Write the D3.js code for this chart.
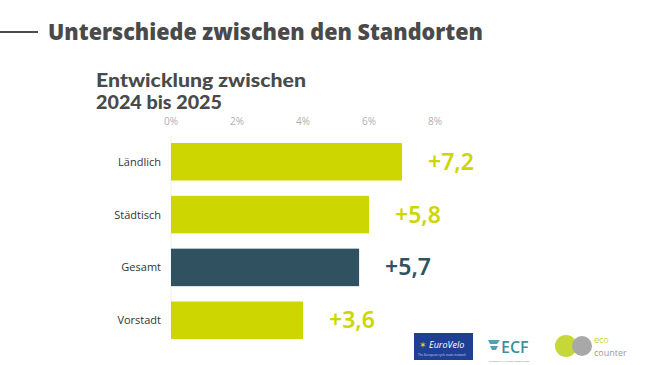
<!DOCTYPE html>
<html>
<head>
<meta charset="utf-8">
<script src="https://cdn.jsdelivr.net/npm/d3@7"></script>
<style>
  body { margin: 0; background: #fff; }
  svg { display: block; }
</style>
</head>
<body>
<div id="chart"></div>
<script>
// data
var categories = ["Ländlich", "Städtisch", "Gesamt", "Vorstadt"];
var barValues = [7.0, 6.0, 5.7, 4.0];
var valueLabels = ["+7,2", "+5,8", "+5,7", "+3,6"];
var highlight = ["Gesamt"];
var ticks = [0, 2, 4, 6, 8];

var W = 650, H = 365;
var LIME = "#CDD600", DARK = "#30515F", GREY = "#4A4A4A";

var svg = d3.select("#chart").append("svg")
  .attr("width", W)
  .attr("height", H);

// header
svg.append("line")
  .attr("x1", 0).attr("x2", 38)
  .attr("y1", 32).attr("y2", 32)
  .attr("stroke", GREY).attr("stroke-width", 2);

svg.append("text")
  .attr("x", 48).attr("y", 40)
  .attr("font-family", "'Open Sans', sans-serif")
  .attr("font-weight", 800)
  .attr("font-size", 22)
  .attr("fill", GREY)
  .attr("textLength", 435)
  .attr("lengthAdjust", "spacingAndGlyphs")
  .text("Unterschiede zwischen den Standorten");

var subLines = [["Entwicklung zwischen", 87, 210], ["2024 bis 2025", 109, 126]];
svg.append("g")
  .selectAll("text")
  .data(subLines)
  .join("text")
  .attr("x", 96)
  .attr("y", function(d){ return d[1]; })
  .attr("font-family", "Lato, sans-serif")
  .attr("font-weight", 900)
  .attr("font-size", 18)
  .attr("fill", GREY)
  .attr("textLength", function(d){ return d[2]; })
  .attr("lengthAdjust", "spacingAndGlyphs")
  .text(function(d){ return d[0]; });

// scales
var x = d3.scaleLinear().domain([0, 8]).range([171, 435]);
var y = d3.scaleBand().domain(categories).range([143, 339]).paddingInner(0.29).paddingOuter(0);

// tick labels on top
svg.append("g")
  .selectAll("text")
  .data(ticks)
  .join("text")
  .attr("x", function(d){ return x(d); })
  .attr("y", 125)
  .attr("text-anchor", "middle")
  .attr("font-family", "'Open Sans', sans-serif")
  .attr("font-size", 10)
  .attr("fill", "#B0B0B0")
  .text(function(d){ return d + "%"; });

// faint baseline
svg.append("line")
  .attr("x1", x(0)).attr("x2", x(0))
  .attr("y1", 136).attr("y2", 332)
  .attr("stroke", "#EEEEEE").attr("stroke-width", 1);

// bars
svg.append("g")
  .selectAll("rect")
  .data(categories)
  .join("rect")
  .attr("x", x(0))
  .attr("y", function(d){ return y(d); })
  .attr("width", function(d, i){ return x(barValues[i]) - x(0); })
  .attr("height", y.bandwidth())
  .attr("fill", function(d){ return highlight.indexOf(d) >= 0 ? DARK : LIME; });

// category labels
svg.append("g")
  .selectAll("text")
  .data(categories)
  .join("text")
  .attr("x", 161)
  .attr("y", function(d){ return y(d) + y.bandwidth() / 2 + 4; })
  .attr("text-anchor", "end")
  .attr("font-family", "'Open Sans', sans-serif")
  .attr("font-size", 11)
  .attr("fill", "#333333")
  .text(function(d){ return d; });

// value labels
svg.append("g")
  .selectAll("text")
  .data(categories)
  .join("text")
  .attr("x", function(d, i){ return x(barValues[i]) + 26; })
  .attr("y", function(d){ return y(d) + y.bandwidth() / 2 + 8; })
  .attr("font-family", "'Noto Sans', sans-serif")
  .attr("font-weight", 600)
  .attr("font-size", 23)
  .attr("fill", function(d){ return highlight.indexOf(d) >= 0 ? DARK : LIME; })
  .text(function(d, i){ return valueLabels[i]; });

// logos (simplified)
var logos = svg.append("g").attr("font-family", "'Open Sans', sans-serif");

// EuroVelo
logos.append("rect")
  .attr("x", 414).attr("y", 333).attr("width", 59).attr("height", 27)
  .attr("fill", "#1F3F95");
logos.append("text")
  .attr("x", 419).attr("y", 348)
  .attr("font-size", 9)
  .attr("fill", "#F5D000")
  .text("✶");
logos.append("text")
  .attr("x", 429).attr("y", 348)
  .attr("font-style", "italic")
  .attr("font-size", 9)
  .attr("fill", "#fff")
  .text("EuroVelo");
logos.append("text")
  .attr("x", 418).attr("y", 356)
  .attr("font-size", 3)
  .attr("fill", "#cfd8f0")
  .text("The European cycle route network");

// ECF
logos.append("path")
  .attr("d", "M488,340 L500,340 L497,344 L490,344 Z M490,346 L498,346 L496,350 L492,350 Z")
  .attr("fill", "#4FA3B0");
logos.append("text")
  .attr("x", 501).attr("y", 353)
  .attr("font-weight", 600)
  .attr("font-size", 16)
  .attr("fill", "#3F8E9C")
  .text("ECF");
logos.append("text")
  .attr("x", 489).attr("y", 362)
  .attr("font-size", 2.5)
  .attr("fill", "#777")
  .text("EUROPEAN CYCLISTS' FEDERATION");

// eco counter
logos.append("circle")
  .attr("cx", 566).attr("cy", 346).attr("r", 11)
  .attr("fill", "#C6D73A");
logos.append("circle")
  .attr("cx", 582).attr("cy", 346).attr("r", 10)
  .attr("fill", "#A8A8A8");
logos.append("text")
  .attr("x", 594).attr("y", 343)
  .attr("font-size", 9)
  .attr("fill", "#C6D73A")
  .text("eco");
logos.append("text")
  .attr("x", 594).attr("y", 356)
  .attr("font-size", 9)
  .attr("fill", "#999")
  .text("counter");
</script>
</body>
</html>
